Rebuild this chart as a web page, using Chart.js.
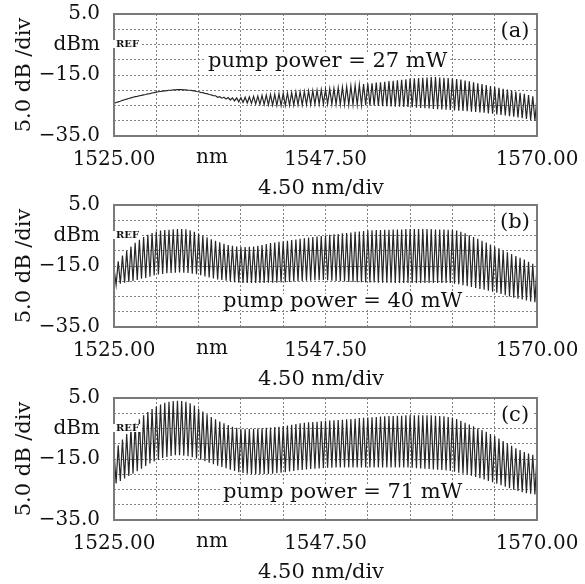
<!DOCTYPE html>
<html>
<head>
<meta charset="utf-8">
<script src="https://cdn.jsdelivr.net/npm/chart.js@4.4.1/dist/chart.umd.min.js"></script>
<style>
  body { margin: 0; background: #fff; }
  .panel { position: absolute; left: 0; width: 585px; height: 200px; }
</style>
</head>
<body>
<div class="panel" style="top:0px"><canvas id="chartA" width="585" height="200"></canvas></div>
<div class="panel" style="top:191px"><canvas id="chartB" width="585" height="200"></canvas></div>
<div class="panel" style="top:384px"><canvas id="chartC" width="585" height="200"></canvas></div>
<script>
// wavelengths of the comb maxima and minima (nm)
const peakNm = [
  1525.00, 1525.45, 1525.90, 1526.35, 1526.80, 1527.25, 1527.70, 1528.15, 1528.60, 1529.05,
  1529.50, 1529.95, 1530.40, 1530.85, 1531.30, 1531.75, 1532.20, 1532.65, 1533.10, 1533.55,
  1534.00, 1534.45, 1534.90, 1535.35, 1535.80, 1536.25, 1536.70, 1537.15, 1537.60, 1538.05,
  1538.50, 1538.95, 1539.40, 1539.85, 1540.30, 1540.75, 1541.20, 1541.65, 1542.10, 1542.55,
  1543.00, 1543.45, 1543.90, 1544.35, 1544.80, 1545.25, 1545.70, 1546.15, 1546.60, 1547.05,
  1547.50, 1547.95, 1548.40, 1548.85, 1549.30, 1549.75, 1550.20, 1550.65, 1551.10, 1551.55,
  1552.00, 1552.45, 1552.90, 1553.35, 1553.80, 1554.25, 1554.70, 1555.15, 1555.60, 1556.05,
  1556.50, 1556.95, 1557.40, 1557.85, 1558.30, 1558.75, 1559.20, 1559.65, 1560.10, 1560.55,
  1561.00, 1561.45, 1561.90, 1562.35, 1562.80, 1563.25, 1563.70, 1564.15, 1564.60, 1565.05,
  1565.50, 1565.95, 1566.40, 1566.85, 1567.30, 1567.75, 1568.20, 1568.65, 1569.10, 1569.55,
  1570.00
];
const dipNm = [
  1525.225, 1525.675, 1526.125, 1526.575, 1527.025, 1527.475, 1527.925, 1528.375, 1528.825, 1529.275,
  1529.725, 1530.175, 1530.625, 1531.075, 1531.525, 1531.975, 1532.425, 1532.875, 1533.325, 1533.775,
  1534.225, 1534.675, 1535.125, 1535.575, 1536.025, 1536.475, 1536.925, 1537.375, 1537.825, 1538.275,
  1538.725, 1539.175, 1539.625, 1540.075, 1540.525, 1540.975, 1541.425, 1541.875, 1542.325, 1542.775,
  1543.225, 1543.675, 1544.125, 1544.575, 1545.025, 1545.475, 1545.925, 1546.375, 1546.825, 1547.275,
  1547.725, 1548.175, 1548.625, 1549.075, 1549.525, 1549.975, 1550.425, 1550.875, 1551.325, 1551.775,
  1552.225, 1552.675, 1553.125, 1553.575, 1554.025, 1554.475, 1554.925, 1555.375, 1555.825, 1556.275,
  1556.725, 1557.175, 1557.625, 1558.075, 1558.525, 1558.975, 1559.425, 1559.875, 1560.325, 1560.775,
  1561.225, 1561.675, 1562.125, 1562.575, 1563.025, 1563.475, 1563.925, 1564.375, 1564.825, 1565.275,
  1565.725, 1566.175, 1566.625, 1567.075, 1567.525, 1567.975, 1568.425, 1568.875, 1569.325, 1569.775
];

// (a) pump power = 27 mW, dBm
const peaksA = [
  -24.3, -23.8, -23.3, -22.9, -22.5, -22.1, -21.8, -21.5, -21.2, -20.9,
  -20.6, -20.4, -20.2, -20.0, -19.9, -19.8, -19.8, -19.9, -20.0, -20.2,
  -20.5, -20.8, -21.1, -21.5, -21.8, -22.1, -22.3, -22.4, -22.5, -22.5,
  -22.4, -22.3, -22.2, -22.0, -21.9, -21.7, -21.6, -21.4, -21.3, -21.1,
  -21.0, -20.9, -20.8, -20.6, -20.5, -20.4, -20.2, -20.1, -20.0, -19.8,
  -19.7, -19.5, -19.4, -19.2, -19.0, -18.8, -18.6, -18.4, -18.2, -18.0,
  -17.8, -17.7, -17.5, -17.4, -17.2, -17.0, -16.9, -16.7, -16.6, -16.4,
  -16.2, -16.1, -16.0, -15.9, -15.8, -15.7, -15.7, -15.8, -15.9, -16.0,
  -16.1, -16.3, -16.5, -16.8, -17.1, -17.4, -17.7, -18.0, -18.3, -18.6,
  -18.9, -19.2, -19.5, -19.8, -20.1, -20.4, -20.8, -21.2, -21.6, -22.0,
  -22.3
];
const dipsA = [
  -24.0, -23.6, -23.1, -22.7, -22.3, -22.0, -21.7, -21.4, -21.1, -20.8,
  -20.5, -20.3, -20.1, -20.0, -19.9, -19.8, -19.9, -20.0, -20.1, -20.4,
  -20.7, -21.0, -21.4, -21.8, -22.3, -22.6, -22.9, -23.2, -23.5, -23.8,
  -24.0, -24.2, -24.3, -24.5, -24.6, -24.7, -24.8, -24.9, -25.0, -25.0,
  -25.0, -24.9, -24.9, -24.8, -24.8, -24.7, -24.7, -24.6, -24.6, -24.5,
  -24.5, -24.6, -24.6, -24.7, -24.7, -24.8, -24.8, -24.8, -24.9, -24.9,
  -25.0, -25.0, -25.1, -25.2, -25.2, -25.3, -25.4, -25.4, -25.5, -25.5,
  -25.6, -25.7, -25.8, -25.9, -26.0, -26.1, -26.2, -26.3, -26.4, -26.5,
  -26.6, -26.7, -26.8, -26.9, -27.0, -27.1, -27.3, -27.4, -27.6, -27.7,
  -27.9, -28.1, -28.3, -28.5, -28.7, -28.9, -29.2, -29.4, -29.7, -30.0
];

// (b) pump power = 40 mW
const peaksB = [
  -15.7, -13.5, -11.6, -10.0, -8.6, -7.4, -6.4, -5.5, -4.8, -4.2,
  -3.7, -3.4, -3.2, -3.1, -3.0, -2.9, -2.9, -3.0, -3.3, -3.8,
  -4.4, -5.0, -5.6, -6.2, -6.7, -7.2, -7.7, -8.1, -8.4, -8.6,
  -8.8, -8.8, -8.7, -8.6, -8.4, -8.1, -7.8, -7.5, -7.3, -7.1,
  -6.9, -6.7, -6.5, -6.3, -6.1, -5.9, -5.7, -5.5, -5.3, -5.2,
  -5.0, -4.8, -4.6, -4.5, -4.3, -4.2, -4.0, -3.8, -3.7, -3.5,
  -3.3, -3.3, -3.2, -3.2, -3.1, -3.1, -3.0, -3.0, -3.0, -2.9,
  -2.9, -2.9, -2.9, -2.9, -2.9, -2.9, -3.0, -3.0, -3.0, -3.1,
  -3.1, -3.4, -3.8, -4.3, -4.9, -5.5, -6.1, -6.7, -7.3, -8.0,
  -8.6, -9.2, -9.9, -10.5, -11.1, -11.7, -12.3, -12.9, -13.6, -14.3,
  -14.9
];
const dipsB = [
  -21.2, -20.8, -20.5, -20.2, -19.9, -19.6, -19.2, -18.9, -18.5, -18.1,
  -17.8, -17.6, -17.4, -17.3, -17.2, -17.1, -17.2, -17.3, -17.5, -17.7,
  -18.0, -18.4, -18.8, -19.1, -19.4, -19.6, -19.8, -20.1, -20.3, -20.5,
  -20.6, -20.6, -20.6, -20.6, -20.6, -20.6, -20.5, -20.5, -20.5, -20.4,
  -20.3, -20.2, -20.1, -20.0, -19.9, -19.8, -19.8, -19.7, -19.7, -19.6,
  -19.7, -19.8, -19.9, -20.0, -20.1, -20.2, -20.2, -20.3, -20.3, -20.4,
  -20.4, -20.4, -20.5, -20.5, -20.5, -20.5, -20.6, -20.6, -20.6, -20.6,
  -20.6, -20.6, -20.6, -20.6, -20.6, -20.6, -20.6, -20.6, -20.6, -20.6,
  -20.8, -21.0, -21.3, -21.6, -21.9, -22.2, -22.5, -22.8, -23.1, -23.4,
  -23.8, -24.2, -24.6, -25.0, -25.4, -25.7, -26.0, -26.3, -26.6, -26.9
];

// (c) pump power = 71 mW
const peaksC = [
  -12.5, -10.5, -8.6, -6.8, -5.0, -3.4, -2.0, -0.7, 0.4, 1.4,
  2.2, 2.9, 3.4, 3.8, 4.0, 4.1, 4.0, 3.8, 3.3, 2.5,
  1.5, 0.6, -0.3, -1.2, -2.0, -2.7, -3.3, -3.9, -4.4, -4.8,
  -5.1, -5.2, -5.2, -5.1, -5.0, -4.9, -4.8, -4.7, -4.5, -4.4,
  -4.2, -4.0, -3.8, -3.5, -3.3, -3.1, -3.0, -2.9, -2.8, -2.6,
  -2.5, -2.4, -2.3, -2.2, -2.1, -2.0, -1.9, -1.8, -1.6, -1.5,
  -1.4, -1.3, -1.2, -1.1, -1.0, -0.9, -0.9, -0.8, -0.8, -0.7,
  -0.7, -0.7, -0.7, -0.7, -0.7, -0.7, -0.8, -0.9, -1.0, -1.2,
  -1.4, -1.9, -2.5, -3.1, -3.7, -4.3, -4.9, -5.5, -6.1, -6.8,
  -7.5, -8.3, -9.1, -9.9, -10.7, -11.5, -12.1, -12.7, -13.2, -13.6,
  -14.0
];
const dipsC = [
  -23.0, -22.2, -21.4, -20.6, -19.8, -19.0, -18.2, -17.3, -16.5, -15.8,
  -15.2, -14.7, -14.3, -14.0, -13.8, -13.8, -13.9, -14.1, -14.4, -14.8,
  -15.2, -15.7, -16.2, -16.7, -17.2, -17.6, -18.0, -18.5, -18.9, -19.3,
  -19.6, -19.8, -19.9, -20.0, -20.0, -19.9, -19.9, -19.8, -19.7, -19.5,
  -19.3, -19.1, -18.9, -18.7, -18.6, -18.4, -18.3, -18.2, -18.1, -18.0,
  -17.9, -17.9, -17.8, -17.8, -17.8, -17.8, -17.8, -17.8, -17.8, -17.8,
  -17.8, -17.8, -17.8, -17.8, -17.8, -17.8, -17.8, -17.8, -17.8, -17.8,
  -17.9, -18.0, -18.1, -18.2, -18.3, -18.4, -18.5, -18.6, -18.8, -18.9,
  -19.2, -19.5, -19.8, -20.1, -20.5, -20.9, -21.3, -21.7, -22.2, -22.6,
  -23.1, -23.6, -24.1, -24.6, -25.1, -25.5, -25.9, -26.2, -26.4, -26.6
];

// axis grid and labels (OSA screen: 4.50 nm/div, 5.0 dB/div)
const xGrid = [1525, 1529.5, 1534, 1538.5, 1543, 1547.5, 1552, 1556.5, 1561, 1565.5, 1570];
const xLabels = ['1525.00', '', '', '', '', '1547.50', '', '', '', '', '1570.00'];
const yGrid = [-35, -30, -25, -20, -15, -10, -5, 0, 5];
const yLabels = ['\u221235.0', '', '', '', '\u221215.0', '', 'dBm', '', '5.0'];

const serif = '"DejaVu Serif", "Liberation Serif", serif';
const ink = '#111';

function trace(peaks, dips) {
  const pts = [];
  for (let i = 0; i < peakNm.length; i++) {
    pts.push({ x: peakNm[i], y: peaks[i] });
    if (i < dipNm.length) pts.push({ x: dipNm[i], y: dips[i] });
  }
  return pts;
}

function boxedText(ctx, text, x, y, align, h) {
  const w = ctx.measureText(text).width;
  const left = align === 'left' ? x : x - w / 2;
  ctx.fillStyle = '#fff';
  ctx.fillRect(left - 3, y - h / 2, w + 6, h);
  ctx.fillStyle = ink;
  ctx.textAlign = align;
  ctx.fillText(text, x, y);
}

// frame, labels and the extra texts of the OSA screen
const screenText = {
  id: 'screenText',
  afterDraw(chart, args, opts) {
    const { ctx, chartArea: a } = chart;
    ctx.save();
    ctx.strokeStyle = '#7a7a7a';
    ctx.lineWidth = 2;
    ctx.strokeRect(a.left, a.top, a.right - a.left, a.bottom - a.top);

    ctx.textBaseline = 'middle';
    ctx.font = '21px ' + serif;
    boxedText(ctx, opts.pump, a.left + opts.pumpDx, a.top + opts.pumpDy, 'left', 16);
    boxedText(ctx, opts.tag, a.right - 22, a.top + 18, 'center', 18);

    ctx.font = 'bold 10px ' + serif;
    boxedText(ctx, 'REF', a.left + 2, a.top + 30, 'left', 8);

    ctx.fillStyle = ink;
    ctx.textAlign = 'center';
    ctx.font = '20px ' + serif;
    ctx.fillText('nm', a.left + 98, a.bottom + 22);
    ctx.font = '21px ' + serif;
    ctx.fillText('4.50 nm/div', a.left + 207, a.bottom + 53);

    ctx.translate(25, (a.top + a.bottom) / 2);
    ctx.rotate(-Math.PI / 2);
    ctx.fillText('5.0 dB /div', 0, 0);
    ctx.restore();
  }
};

function makePanel(id, peaks, dips, tag, pump, pumpDx, pumpDy) {
  new Chart(document.getElementById(id), {
    type: 'line',
    data: {
      datasets: [{
        data: trace(peaks, dips),
        borderColor: '#262626',
        borderWidth: 1.2,
        pointRadius: 0,
        tension: 0
      }]
    },
    options: {
      responsive: false,
      animation: false,
      layout: { padding: { left: 0, right: 48, top: 14, bottom: 0 } },
      plugins: {
        legend: { display: false },
        tooltip: { enabled: false },
        screenText: { tag: tag, pump: pump, pumpDx: pumpDx, pumpDy: pumpDy }
      },
      scales: {
        x: {
          type: 'linear',
          min: 1525,
          max: 1570,
          afterBuildTicks: s => { s.ticks = xGrid.map(v => ({ value: v })); },
          // fixed box so every panel has the same plot area
          afterFit: s => { s.height = 64; s.paddingLeft = 0; s.paddingRight = 0; },
          ticks: {
            autoSkip: false,
            maxRotation: 0,
            padding: 12,
            color: ink,
            font: { family: serif, size: 20 },
            callback: (v, i) => xLabels[i]
          },
          grid: { color: '#7f7f7f', lineWidth: 1, drawTicks: false },
          border: { display: false, dash: [2, 2] }
        },
        y: {
          min: -35,
          max: 5,
          afterBuildTicks: s => { s.ticks = yGrid.map(v => ({ value: v })); },
          afterFit: s => { s.width = 114; s.paddingTop = 0; s.paddingBottom = 0; },
          ticks: {
            autoSkip: false,
            padding: 14,
            color: ink,
            font: { family: serif, size: 20 },
            callback: (v, i) => yLabels[i]
          },
          grid: { color: '#7f7f7f', lineWidth: 1, drawTicks: false },
          border: { display: false, dash: [2, 2] }
        }
      }
    },
    plugins: [screenText]
  });
}

makePanel('chartA', peaksA, dipsA, '(a)', 'pump power = 27 mW', 94, 48);
makePanel('chartB', peaksB, dipsB, '(b)', 'pump power = 40 mW', 109, 97);
makePanel('chartC', peaksC, dipsC, '(c)', 'pump power = 71 mW', 109, 95);
</script>
</body>
</html>
